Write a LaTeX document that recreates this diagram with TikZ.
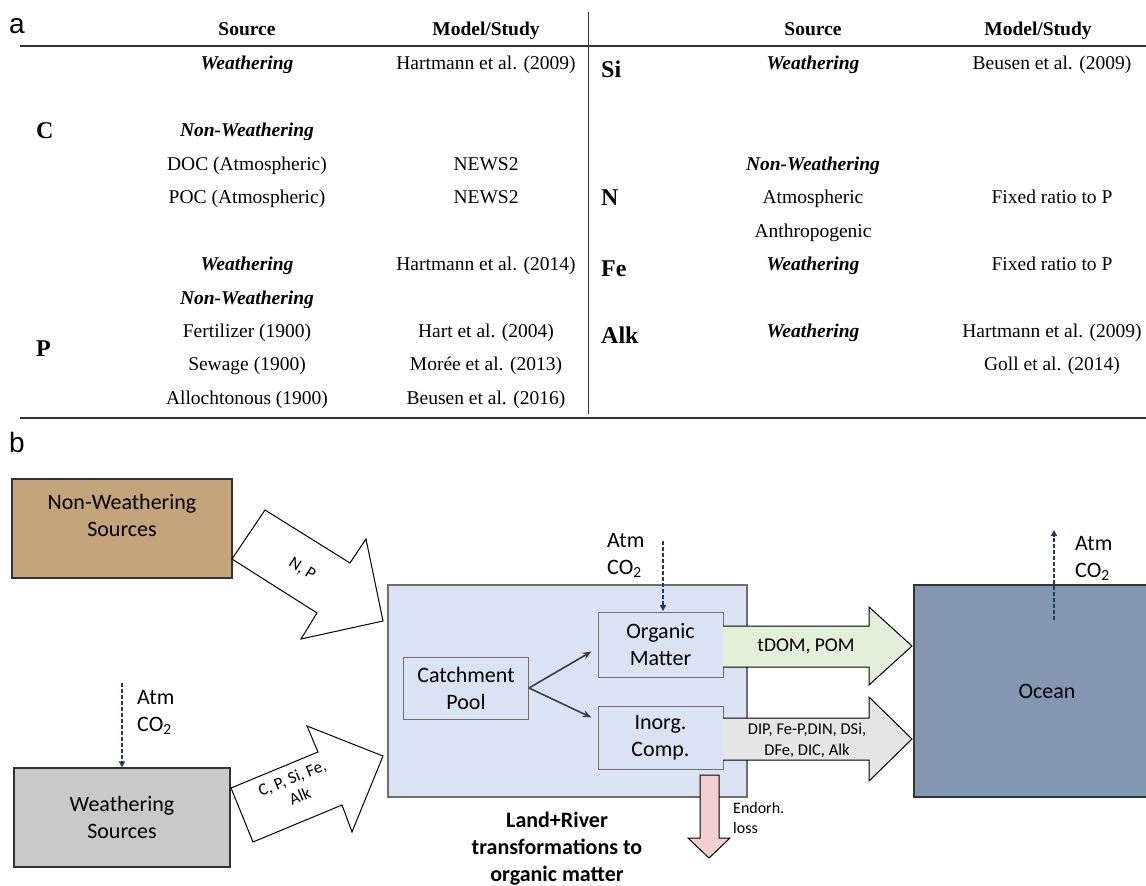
\documentclass[tikz,border=0pt]{standalone}
\usepackage{fontspec}
\setmainfont{Liberation Serif}
\newfontfamily\carlfont{Carlito}
\newfontfamily\arialfont{Liberation Sans}
\usetikzlibrary{arrows.meta}
\definecolor{cTan}{HTML}{C4A47A}
\definecolor{cGray}{HTML}{C9C9C9}
\definecolor{cBlue}{HTML}{DAE3F3}
\definecolor{cOcean}{HTML}{8497B0}
\definecolor{cGreen}{HTML}{E2F0D9}
\definecolor{cLight}{HTML}{E7E6E6}
\definecolor{cPink}{HTML}{F4CFCF}
\definecolor{cNavy}{HTML}{203864}
\definecolor{cDark}{HTML}{333333}
\definecolor{cMid}{HTML}{6F6F6F}
\definecolor{cArr}{HTML}{3A3F48}
\newcommand\tabfont{\fontsize{19.5}{23}\selectfont}
\newcommand\bigboldfont{\fontsize{24}{28}\selectfont\bfseries}
\newcommand\boxfont{\carlfont\fontsize{22}{27}\selectfont}
\newcommand\midfont{\carlfont\fontsize{19.5}{23}\selectfont}
\newcommand\smallfont{\carlfont\fontsize{16.5}{21}\selectfont}
\newcommand\rotfont{\carlfont\fontsize{17}{20}\selectfont}
\newcommand\lossfont{\carlfont\fontsize{16}{20}\selectfont}
\tikzset{
  tcell/.style={font=\tabfont, inner sep=0pt, anchor=base},
  thead/.style={font=\tabfont\bfseries, inner sep=0pt, anchor=base},
  tbi/.style={font=\tabfont\bfseries\itshape, inner sep=0pt, anchor=base},
  telem/.style={font=\bigboldfont, inner sep=0pt, anchor=base west},
  rule/.style={draw=cDark, line width=1.6pt},
  box/.style={draw=cDark, line width=1.2pt, inner sep=0pt},
  inbox/.style={draw=cMid, line width=1pt, inner sep=0pt, fill=cBlue, font=\boxfont, align=center, minimum width=125pt},
  barrow/.style={draw=black, line width=1pt, line join=miter},
  co2arrow/.style={draw=cNavy, line width=1.4pt, dash pattern=on 4pt off 2pt, -{Triangle[length=6pt,width=6pt]}},
  catarrow/.style={draw=cArr, line width=1.6pt, -{Stealth[length=9pt,width=7pt]}},
  txt/.style={inner sep=0pt}
}
\begin{document}
\begin{tikzpicture}[x=1pt,y=-1pt]
\useasboundingbox (0,0) rectangle (1146,886);
% ---------- panel a ----------
\node[txt, font=\arialfont\fontsize{28}{30}\selectfont] (la) at (17,26) {a};
\draw[rule] (20,46) -- (1146,46);
\draw[rule] (20,418) -- (1146,418);
\draw[draw=cDark, line width=1pt] (588,12) -- (588,414);
\node[thead] (h1) at (247,35.5) {Source};
\node[thead] (h2) at (486,35.5) {Model/Study};
\node[thead] (h3) at (813,35.5) {Source};
\node[thead] (h4) at (1038,35.5) {Model/Study};
% left block
\node[telem] (eC) at (36,138) {C};
\node[telem] (eP) at (36,356) {P};
\node[tbi] (a1) at (247,69.5) {Weathering};
\node[tcell] (a2) at (486,69.5) {Hartmann et al. (2009)};
\node[tbi] (a3) at (247,136.5) {Non-Weathering};
\node[tcell] (a4) at (247,170.5) {DOC (Atmospheric)};
\node[tcell] (a5) at (486,170.5) {NEWS2};
\node[tcell] (a6) at (247,203.5) {POC (Atmospheric)};
\node[tcell] (a7) at (486,203.5) {NEWS2};
\node[tbi] (a8) at (247,270.5) {Weathering};
\node[tcell] (a9) at (486,270.5) {Hartmann et al. (2014)};
\node[tbi] (a10) at (247,304.5) {Non-Weathering};
\node[tcell] (a11) at (247,337.5) {Fertilizer (1900)};
\node[tcell] (a12) at (486,337.5) {Hart et al. (2004)};
\node[tcell] (a13) at (247,370.5) {Sewage (1900)};
\node[tcell] (a14) at (486,370.5) {Morée et al. (2013)};
\node[tcell] (a15) at (247,404.5) {Allochtonous (1900)};
\node[tcell] (a16) at (486,404.5) {Beusen et al. (2016)};
% right block
\node[telem] (eSi) at (601,77) {Si};
\node[telem] (eN) at (601,205) {N};
\node[telem] (eFe) at (601,276) {Fe};
\node[telem] (eAlk) at (601,343) {Alk};
\node[tbi] (b1) at (813,69.5) {Weathering};
\node[tcell] (b2) at (1052,69.5) {Beusen et al. (2009)};
\node[tbi] (b3) at (813,170.5) {Non-Weathering};
\node[tcell] (b4) at (813,203.5) {Atmospheric};
\node[tcell] (b5) at (1052,203.5) {Fixed ratio to P};
\node[tcell] (b6) at (813,237.5) {Anthropogenic};
\node[tbi] (b7) at (813,270.5) {Weathering};
\node[tcell] (b8) at (1052,270.5) {Fixed ratio to P};
\node[tbi] (b9) at (813,337.5) {Weathering};
\node[tcell] (b10) at (1052,337.5) {Hartmann et al. (2009)};
\node[tcell] (b11) at (1052,370.5) {Goll et al. (2014)};
% ---------- panel b ----------
\node[txt, font=\arialfont\fontsize{28}{30}\selectfont] (lb) at (17,442) {b};
\node[box, fill=cTan, minimum width=220pt, minimum height=99pt] (nws) at (122,528.5) {};
\node[txt, font=\boxfont, align=center] (nwst) at (122,515) {Non-Weathering\\Sources};
\node[box, fill=cGray, draw=cDark, minimum width=216pt, minimum height=99pt, font=\boxfont, align=center] (ws) at (122,817.5) {Weathering\\Sources};
\coordinate (atmL) at (122,683);
\draw[co2arrow] (atmL) -- (ws.north);
\node[txt, font=\boxfont, align=left, anchor=west] (atmLt) at (137,712) {Atm\\CO\textsubscript{2}};
% land box
\node[box, fill=cBlue, draw=cMid, minimum width=359pt, minimum height=212pt] (land) at (567.5,691) {};
\node[inbox, minimum height=62pt] (cp) at (466,688) {Catchment\\Pool};
\node[inbox, minimum height=65pt] (om) at (660.5,644.5) {Organic\\Matter};
\node[inbox, minimum height=63pt] (ic) at (660.5,737.5) {Inorg.\\Comp.};
\draw[catarrow] (cp.east) -- ([xshift=-6pt,yshift=-7pt]om.west);
\draw[catarrow] (cp.east) -- ([xshift=-6pt,yshift=20pt]ic.west);
\coordinate (atmC) at (663,541);
\draw[co2arrow] (atmC) -- (663,611);
\node[txt, font=\boxfont, align=left, anchor=west] (atmCt) at (607,555) {Atm\\CO\textsubscript{2}};
% ocean
\node[box, fill=cOcean, draw=cDark, minimum width=266pt, minimum height=212pt, font=\boxfont] (ocean) at (1047,691) {Ocean};
\coordinate (ocb) at (1054,620);
\coordinate (oct) at (1054,530);
\draw[co2arrow] (ocb) -- (oct);
\node[txt, font=\boxfont, align=left, anchor=west] (atmOt) at (1075,558) {Atm\\CO\textsubscript{2}};
% block arrows from sources
\draw[barrow, fill=white] (232,559) -- (265,510) -- (350,563) -- (366,539) -- (383,621) -- (301,639) -- (317,613) -- cycle;
\node[txt, font=\rotfont, rotate=-32.4] (npl) at (302,569) {N, P};
\draw[barrow, fill=white] (231,788) -- (318,752) -- (307,726) -- (383,756) -- (352,832) -- (342,805) -- (253,842) -- cycle;
\node[txt, font=\rotfont, align=center, rotate=22.5] (cpl) at (296,787) {C, P, Si, Fe,\\Alk};
% outflow arrows
\fill[cGreen] (723,626) -- (869,626) -- (869,607) -- (912,646) -- (869,685) -- (869,667) -- (723,667) -- cycle;
\draw[barrow] (723,626) -- (869,626) -- (869,607) -- (912,646) -- (869,685) -- (869,667) -- (723,667);
\node[txt, font=\midfont] (tdom) at (806,646) {tDOM, POM};
\fill[cLight] (723,718) -- (869,718) -- (869,697) -- (912,739) -- (869,781) -- (869,760) -- (723,760) -- cycle;
\draw[barrow] (723,718) -- (869,718) -- (869,697) -- (912,739) -- (869,781) -- (869,760) -- (723,760);
\node[txt, font=\smallfont, align=center] (dip) at (807,740) {DIP, Fe-P,DIN, DSi,\\DFe, DIC, Alk};
\draw[barrow, fill=cPink] (700,775) -- (719,775) -- (719,838) -- (730,838) -- (709,858) -- (688,838) -- (700,838) -- cycle;
\node[txt, font=\lossfont, align=left, anchor=west] (endo) at (733,818) {Endorh.\\loss};
\node[txt, font=\boxfont\bfseries, align=center] (lrt) at (557,849) {Land+River\\transformations to\\organic matter};
\end{tikzpicture}
\end{document}
